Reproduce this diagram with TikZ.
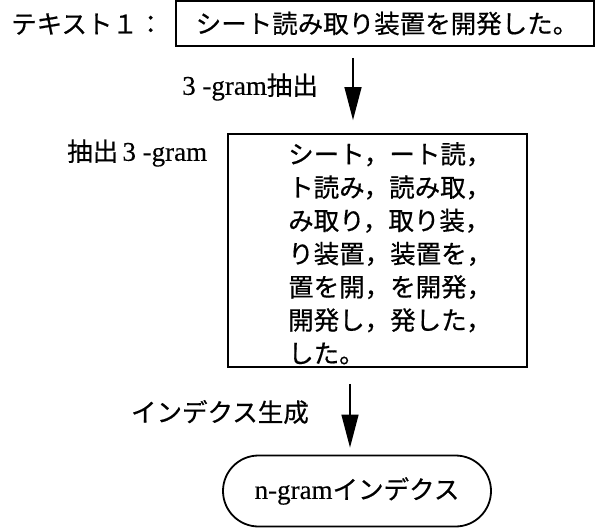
\documentclass[tikz,border=0pt]{standalone}
\usepackage{fontspec}
\setmainfont[FakeBold=0.3]{Liberation Serif}
\newfontfamily\jp[FakeBold=0.5]{Noto Sans CJK JP}
\usetikzlibrary{arrows.meta,shapes.misc}
\newcommand\myfs{\fontsize{25.5}{33.2}\selectfont}
\newcommand\latfs{\fontsize{27}{33}\selectfont}
\begin{document}
\begin{tikzpicture}[x=1pt,y=-1pt,
  box/.style={draw,line width=1.8pt,inner sep=0pt},
  lbl/.style={inner sep=0pt,font=\myfs},
  arr/.style={line width=1.4pt,-{Triangle[length=33pt,width=17pt]}}]
\useasboundingbox (0,0) rectangle (596,529);
\node[box,minimum width=418pt,minimum height=45pt,font=\myfs\jp] (text1) at (385,23.5) {\hspace{4pt}シート読み取り装置を開発した。};
\node[lbl,anchor=west,font=\myfs\jp] (t1lbl) at (11,24) {テキスト１：};
\node[box,minimum width=299pt,minimum height=233pt] (grams) at (377.5,250.5) {};
\node[lbl,anchor=north west,align=left,font=\myfs\jp] (gramlist) at (288,142)
  {シート，ート読，\\ト読み，読み取，\\み取り，取り装，\\り装置，装置を，\\置を開，を開発，\\開発し，発した，\\した。};
\node[lbl,anchor=west] (glbl) at (67,153) {{\jp 抽出}\,{\latfs 3 -gram}};
\coordinate (ax1) at (353,0);
\coordinate (ax2) at (350,0);
\draw[arr,shorten <=11pt,shorten >=13pt] (text1.south -| ax1) -- (grams.north -| ax1);
\node[lbl,anchor=west] (alb1) at (182,87) {{\latfs 3 -gram}{\jp 抽出}};
\node[draw,line width=1.8pt,rounded rectangle,minimum width=268pt,minimum height=71pt,inner sep=0pt,font=\myfs] (idx) at (357,491) {{\latfs n-gram}{\jp インデクス}};
\draw[arr,shorten <=16pt,shorten >=7pt] (grams.south -| ax2) -- (idx.north -| ax2);
\node[lbl,anchor=east,font=\myfs\jp] (alb2) at (309,412) {インデクス生成};
\end{tikzpicture}
\end{document}
